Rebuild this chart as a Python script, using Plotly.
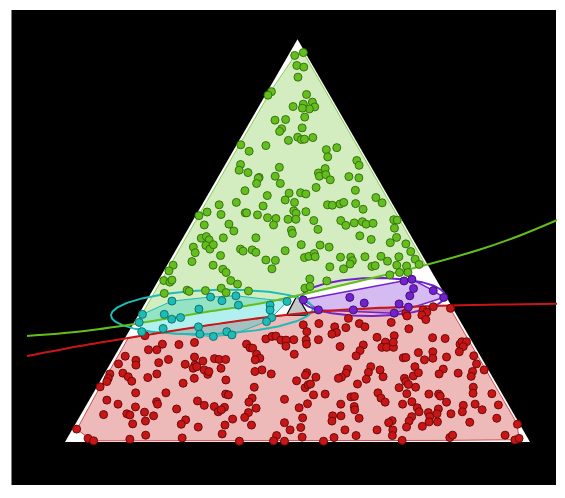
import numpy as np
import plotly.graph_objects as go

# ---------------- data (ternary compositions, percent) ----------------
green_a = [95.9,96.7,93.5,93.1,90.6,87.0,86.2,86.3,84.4,83.9,83.2,83.3,82.7,82.9,80.0,80.0,80.6,78.0,77.7,77.2,
           74.9,75.7,75.1,75.2,75.6,73.8,72.2,73.6,72.6,73.1,70.8,68.9,67.5,66.9,68.2,65.7,66.0,67.9,66.8,66.0,
           66.4,69.9,68.7,65.9,65.6,65.1,65.5,64.2,64.2,62.4,61.2,60.1,61.8,59.5,61.9,58.9,59.5,58.6,57.1,56.5,
           56.2,56.9,56.9,56.4,57.4,56.8,55.7,55.5,55.3,55.3,53.9,54.1,53.9,52.4,52.6,51.8,50.6,51.0,50.2,50.7,
           50.7,48.4,47.0,48.8,47.9,49.0,47.9,47.4,47.7,47.1,49.0,46.3,47.5,44.8,43.9,45.2,45.1,45.8,43.9,42.5,
           42.9,42.1,43.0,40.1,39.7,40.2,40.1,39.2,36.9,37.7,37.4,37.6,38.2,37.1,37.5,63.2,62.5,61.6,60.7,59.4,
           58.9,58.8,59.1,59.5,59.2,57.8,57.2,55.0,55.0,53.8,54.4,54.7,54.1,54.3,55.2,55.1,53.1,52.8,51.2,50.3,
           50.8,49.5,48.9,48.4,49.2,46.1,46.8,46.0,45.9,45.9,45.0,44.2,46.0,46.1,46.0,47.3,45.4,43.5,43.0,43.6,
           43.8,44.9,43.9,43.7,44.1,42.1,42.1,41.5,40.5,40.0,38.2,38.6]
green_b = [2.6,0.4,3.4,2.1,4.6,12.1,13.3,4.9,4.6,6.8,4.7,9.3,6.1,7.5,14.9,12.5,8.1,10.0,14.5,15.3,
           14.5,12.1,11.6,10.9,8.9,25.3,24.3,20.0,7.5,5.0,8.1,27.8,28.8,27.2,19.8,25.4,21.8,10.1,12.1,12.3,
           10.7,2.3,2.4,6.0,4.0,10.4,25.7,26.7,21.6,30.1,25.9,22.6,20.9,20.9,18.4,37.4,33.4,28.1,40.9,38.2,
           43.1,32.8,32.5,30.4,22.1,21.9,28.6,26.9,24.4,22.7,43.1,37.7,28.2,37.5,25.0,25.2,45.4,44.1,43.9,40.6,
           33.6,48.2,48.5,45.3,44.9,43.6,38.3,38.0,35.9,35.4,24.7,43.4,28.9,50.3,46.2,34.2,32.2,25.6,54.8,56.4,
           44.6,44.3,34.0,58.7,57.6,56.9,44.3,43.3,60.2,54.9,54.6,51.0,47.3,46.8,41.8,14.4,6.3,17.4,2.8,2.1,
           14.1,13.1,11.3,10.3,7.9,7.0,19.6,19.0,13.2,12.7,10.6,8.7,8.2,6.6,1.7,1.0,2.6,19.2,11.0,9.0,
           3.3,5.3,20.7,19.0,2.1,24.5,23.0,23.2,17.8,15.6,15.7,16.6,12.5,9.0,5.2,2.0,2.0,21.3,18.6,12.2,
           11.4,8.2,6.7,4.7,1.8,7.0,5.2,9.4,27.1,23.7,29.3,28.0]
green_c = [1.4,2.9,3.1,4.8,4.8,0.9,0.6,8.8,11.0,9.3,12.1,7.4,11.2,9.6,5.2,7.4,11.2,12.0,7.7,7.6,
           10.6,12.2,13.3,13.9,15.5,0.9,3.5,6.4,19.9,21.9,21.1,3.3,3.7,5.9,12.0,8.9,12.2,22.0,21.1,21.7,
           22.9,27.8,28.9,28.1,30.4,24.5,8.8,9.1,14.2,7.5,12.9,17.3,17.3,19.6,19.7,3.7,7.1,13.3,2.0,5.3,
           0.7,10.3,10.6,13.2,20.5,21.3,15.7,17.6,20.3,22.0,3.0,8.2,17.9,10.1,22.4,23.0,4.0,4.9,5.9,8.7,
           15.7,3.4,4.5,5.9,7.2,7.4,13.8,14.6,16.4,17.5,26.3,10.3,23.6,4.9,9.9,20.6,22.7,28.6,1.3,1.1,
           12.5,13.6,23.0,1.2,2.7,2.9,15.6,17.5,2.9,7.4,8.0,11.4,14.5,16.1,20.7,22.4,31.2,21.0,36.5,38.5,
           27.0,28.1,29.6,30.2,32.9,35.2,23.2,26.0,31.8,33.5,35.0,36.6,37.7,39.1,43.1,43.9,44.3,28.0,37.8,40.7,
           45.9,45.2,30.4,32.6,48.7,29.4,30.2,30.8,36.3,38.5,39.3,39.2,41.5,44.9,48.8,50.7,52.6,35.2,38.4,44.2,
           44.8,46.9,49.4,51.6,54.1,50.9,52.7,49.1,32.4,36.3,32.5,33.4]

cyan_a = [35.0,36.0,35.1,36.3,34.0,33.0,31.7,31.7,30.9,30.5,34.0,32.8,34.9,30.9,29.7,27.4,28.2,28.6,26.8,26.2,27.4,29.9,26.6]
cyan_b = [59.5,50.7,48.7,45.1,45.7,54.7,62.8,67.5,59.7,61.8,38.9,39.5,34.8,40.1,69.2,69.8,64.8,57.0,57.6,55.0,51.5,41.7,50.8]
cyan_c = [5.5,13.3,16.2,18.6,20.3,12.3,5.5,0.8,9.4,7.7,27.1,27.7,30.3,29.0,1.1,2.8,7.0,14.4,15.6,18.8,21.1,28.4,22.6]

purple_a = [35.3,40.0,40.4,38.1,37.6,35.9,35.9,34.5,36.3,34.3,33.5,32.8,32.0,32.8]
purple_b = [31.1,7.1,5.2,6.0,2.0,0.6,20.8,18.4,7.7,11.0,9.4,21.6,13.2,29.1]
purple_c = [33.6,52.9,54.4,55.9,60.4,63.5,43.3,47.1,56.0,54.7,57.1,45.6,54.8,38.1]

red_a = [32.0,32.8,32.2,33.6,33.2,30.7,31.5,26.4,22.9,22.9,24.3,24.2,24.7,21.3,20.3,19.1,19.4,19.7,20.5,19.3,
         21.1,20.1,19.1,18.3,18.7,20.7,20.5,20.5,17.9,16.8,17.5,18.3,16.9,15.8,15.0,17.1,16.2,15.1,16.0,16.9,
         15.8,14.6,15.4,13.7,12.2,12.2,10.4,9.4,8.7,10.0,9.4,10.2,9.1,8.8,11.9,11.7,8.6,8.2,6.8,7.0,
         6.7,7.4,6.5,7.5,8.0,4.5,5.2,5.5,4.4,3.7,4.2,5.7,3.2,1.7,0.7,0.9,0.3,1.0,2.0,29.1,
         27.4,29.4,28.6,27.2,26.8,28.4,29.4,28.6,29.7,25.6,26.2,26.3,25.3,25.3,23.8,25.4,25.3,24.3,25.4,24.3,
         23.4,23.3,23.7,24.1,22.7,21.4,26.0,24.8,23.5,23.5,23.5,26.4,24.8,21.8,20.8,20.4,21.8,20.9,17.9,17.5,
         16.9,17.2,16.6,16.1,18.7,17.9,18.1,17.1,16.1,15.8,17.3,15.6,16.2,15.2,14.4,13.5,14.2,14.4,13.6,13.5,
         11.7,11.9,12.2,10.9,9.9,10.6,9.5,11.2,11.3,9.4,10.9,9.9,9.4,8.5,8.4,8.8,8.0,7.3,6.1,6.0,
         6.5,5.2,6.5,5.9,5.3,4.8,4.8,4.2,3.0,3.6,3.0,3.0,3.0,1.6,1.2,1.1,1.6,1.6,0.2,0.3,
         0.2,0.2,31.3,30.4,28.1,25.9,25.7,24.3,24.9,24.9,23.7,22.2,22.4,20.8,22.4,21.0,20.4,21.1,21.4,19.4,
         18.7,16.4,17.2,18.1,16.9,17.9,17.1,17.5,16.3,15.8,15.0,14.3,13.6,13.6,12.1,11.9,11.9,11.4,12.0,10.0,
         9.9,9.1,7.5,9.4,12.0,9.2,8.0,8.5,7.5,8.2,7.0,7.0,7.3,6.3,5.0,6.3,5.2,3.7,5.0,3.9,
         4.9,5.9,4.4,1.7,1.1,1.7,0.5,0.9,0.4]
red_b = [10.7,6.6,6.1,4.0,0.5,23.7,7.5,69.6,70.6,68.8,66.9,63.4,59.8,76.4,74.6,75.2,78.8,70.0,67.5,64.5,
         61.6,60.3,62.5,63.3,62.3,57.5,56.6,55.2,61.1,60.9,60.3,57.3,81.9,82.8,83.5,79.0,78.3,78.1,74.2,71.8,
         64.3,67.3,57.7,85.6,78.7,72.2,85.8,83.9,80.5,75.3,75.4,66.4,65.5,63.5,59.5,59.0,61.4,71.9,88.3,83.2,
         82.7,79.2,77.7,63.3,62.4,83.2,80.1,71.3,72.8,69.5,63.5,61.1,95.9,81.8,85.7,94.6,93.7,74.3,65.2,34.2,
         34.3,30.7,27.7,28.0,29.2,25.4,22.0,21.2,15.0,44.0,42.4,41.5,40.9,39.8,40.6,38.1,35.5,35.9,32.8,48.8,
         48.5,48.0,29.0,23.8,25.2,26.7,19.9,18.7,20.1,19.1,17.6,16.0,17.0,47.9,47.7,48.9,39.8,16.8,48.7,50.4,
         47.2,39.4,40.0,38.0,24.9,23.3,30.2,31.0,32.5,33.3,26.1,27.4,23.5,42.6,29.9,41.6,40.6,40.0,52.5,21.4,
         40.7,38.1,26.6,54.3,55.5,47.5,43.1,32.9,32.1,36.0,26.6,26.2,22.7,45.4,54.7,33.4,33.7,56.9,58.3,45.9,
         39.2,40.0,37.4,33.8,27.0,28.0,50.4,57.8,50.1,47.5,38.3,31.4,28.0,53.7,48.4,41.6,36.6,28.8,62.4,55.0,
         52.7,44.3,10.8,7.2,12.0,8.0,5.4,2.9,2.2,1.2,2.5,12.9,9.7,10.5,4.0,16.2,12.5,7.4,1.4,1.8,
         15.4,16.9,15.4,9.6,11.1,0.9,6.9,3.6,4.5,19.1,19.2,19.0,17.8,5.4,6.2,15.8,13.7,13.6,20.5,20.4,
         13.0,9.8,10.8,7.1,2.2,2.2,6.3,20.0,20.1,15.6,16.5,13.5,18.2,18.4,19.2,22.3,23.4,24.7,17.4,21.2,
         10.5,4.2,0.5,4.5,16.7,15.8,3.0,1.9,27.3]
red_c = [57.3,60.6,61.7,62.4,66.3,45.6,61.0,4.0,6.5,8.3,8.8,12.4,15.5,2.3,5.1,5.7,1.8,10.3,12.0,16.2,
         17.3,19.6,18.4,18.4,19.0,21.8,22.9,24.3,21.0,22.3,22.2,24.4,1.2,1.4,1.5,3.9,5.5,6.8,9.8,11.3,
         19.9,18.1,26.9,0.7,9.1,15.6,3.8,6.7,10.8,14.7,15.2,23.4,25.4,27.7,28.6,29.3,30.0,19.9,4.9,9.8,
         10.6,13.4,15.8,29.2,29.6,12.3,14.7,23.2,22.8,26.8,32.3,33.2,0.9,16.5,13.6,4.5,6.0,24.7,32.8,36.7,
         38.3,39.9,43.7,44.8,44.0,46.2,48.6,50.2,55.3,30.4,31.4,32.2,33.8,34.9,35.6,36.5,39.2,39.8,41.8,26.9,
         28.1,28.7,47.3,52.1,52.1,51.9,54.1,56.5,56.4,57.4,58.9,57.6,58.2,30.3,31.5,30.7,38.4,62.3,33.4,32.1,
         35.9,43.4,43.4,45.9,56.4,58.8,51.7,51.9,51.4,50.9,56.6,57.0,60.3,42.2,55.7,44.9,45.2,45.6,33.9,65.1,
         47.6,50.0,61.2,34.8,34.6,41.9,47.4,55.9,56.6,54.6,62.5,63.9,67.9,46.1,36.9,57.8,58.3,35.8,35.6,48.1,
         54.3,54.8,56.1,60.3,67.7,67.2,44.8,38.0,46.9,48.9,58.7,65.6,69.0,44.7,50.4,57.3,61.8,69.6,37.4,44.7,
         47.1,55.5,57.9,62.4,59.9,66.1,68.9,72.8,72.9,73.9,73.8,64.9,67.9,68.7,73.6,62.8,67.1,71.5,77.2,78.8,
         65.9,66.7,67.4,72.3,72.0,81.2,76.0,78.9,79.2,65.1,65.8,66.7,68.6,81.0,81.7,72.3,74.4,75.0,67.5,69.6,
         77.1,81.1,81.7,83.5,85.8,88.6,85.7,71.5,72.4,76.2,76.5,79.5,74.5,75.3,75.8,71.4,71.4,71.6,77.6,74.9,
         84.6,89.9,95.1,93.8,82.2,82.5,96.5,97.2,72.3]

# small unassigned wedge between the cyan and purple groups (ternary vertices)
wedge_a = [31.5, 36.4, 31.5]
wedge_b = [36.6, 31.9, 31.9]
wedge_c = [31.9, 31.7, 36.6]

# boundary curves, in the simplex's planar (x, y) frame (base 0..1, apex height 0.866)
green_curve_x = [-0.0817, 0.0323, 0.1613, 0.2903, 0.4194, 0.5054, 0.6344, 0.7634, 0.8925, 0.9785, 1.0753]
green_curve_y = [0.2280, 0.2376, 0.2559, 0.2774, 0.2978, 0.3161, 0.3462, 0.3774, 0.4140, 0.4441, 0.4845]
red_curve_x = [-0.0817, 0.0323, 0.1613, 0.2903, 0.4194, 0.5484, 0.6774, 0.8065, 0.9355, 1.0753]
red_curve_y = [0.1849, 0.2065, 0.2280, 0.2484, 0.2667, 0.2806, 0.2886, 0.2929, 0.2955, 0.2978]

# group ellipses: centre x, centre y, semi-axes, rotation (deg), same planar frame
cyan_ellipse = dict(cx=0.3161, cy=0.2796, ra=0.2172, rb=0.0473, ang=2.0)
purple_ellipse = dict(cx=0.6624, cy=0.3118, ra=0.1548, rb=0.0409, ang=1.0)

# ---------------- colours ----------------
GREEN = "rgb(100,190,30)"
RED = "rgb(200,22,22)"
CYAN = "rgb(30,188,182)"
PURPLE = "rgb(115,35,205)"

SQ3 = np.sqrt(3) / 2


def proj(a, b, c):
    a = np.asarray(a, float); b = np.asarray(b, float); c = np.asarray(c, float)
    s = a + b + c
    A = a / s; C = c / s
    return C + A / 2, A * SQ3


def convex_hull(x, y):
    pts = sorted(set(zip(np.round(x, 6), np.round(y, 6))))
    def cross(o, p, q):
        return (p[0] - o[0]) * (q[1] - o[1]) - (p[1] - o[1]) * (q[0] - o[0])
    lower, upper = [], []
    for p in pts:
        while len(lower) >= 2 and cross(lower[-2], lower[-1], p) <= 0:
            lower.pop()
        lower.append(p)
    for p in reversed(pts):
        while len(upper) >= 2 and cross(upper[-2], upper[-1], p) <= 0:
            upper.pop()
        upper.append(p)
    return lower, upper[::-1]


def closed(xs, ys):
    return list(xs) + [xs[0]], list(ys) + [ys[0]]


def hull_polygon(x, y):
    lo, up = convex_hull(x, y)
    ring = lo[:-1] + up[::-1][:-1]
    hx = [p[0] for p in ring]; hy = [p[1] for p in ring]
    return closed(hx, hy)


def ellipse(e, n=240):
    t = np.linspace(0, 2 * np.pi, n)
    th = np.radians(e["ang"])
    x = e["cx"] + e["ra"] * np.cos(th) * np.cos(t) - e["rb"] * np.sin(th) * np.sin(t)
    y = e["cy"] + e["ra"] * np.sin(th) * np.cos(t) + e["rb"] * np.cos(th) * np.sin(t)
    return x, y


gx, gy = proj(green_a, green_b, green_c)
rx, ry = proj(red_a, red_b, red_c)
cx_, cy_ = proj(cyan_a, cyan_b, cyan_c)
px_, py_ = proj(purple_a, purple_b, purple_c)

allx = np.concatenate([gx, rx, cx_, px_]); ally = np.concatenate([gy, ry, cy_, py_])
lo, up = convex_hull(allx, ally)
lox = np.array([p[0] for p in lo]); loy = np.array([p[1] for p in lo])
upx = np.array([p[0] for p in up]); upy = np.array([p[1] for p in up])
xs = np.unique(np.concatenate([np.linspace(lox[0], lox[-1], 1500), lox, upx]))
ylo = np.interp(xs, lox, loy); yup = np.interp(xs, upx, upy)

gcv = np.interp(xs, green_curve_x, green_curve_y)
m = yup > gcv
green_reg_x = np.concatenate([xs[m], xs[m][::-1]])
green_reg_y = np.concatenate([yup[m], np.maximum(ylo, gcv)[m][::-1]])

rcv = np.interp(xs, red_curve_x, red_curve_y)
rtop = np.minimum(yup, rcv)
m = rtop > ylo
red_reg_x = np.concatenate([xs[m], xs[m][::-1]])
red_reg_y = np.concatenate([ylo[m], rtop[m][::-1]])

fig = go.Figure()

# white simplex background
tx, ty = proj([0, 0, 100], [100, 0, 0], [0, 100, 0])
tx, ty = closed(list(tx), list(ty))
fig.add_trace(go.Scatter(x=tx, y=ty, fill="toself", fillcolor="white", mode="lines",
                         line=dict(width=0, color="white"), hoverinfo="skip"))

def add_fill(x, y, fill, line, width=1.0):
    fig.add_trace(go.Scatter(x=list(x) + [x[0]], y=list(y) + [y[0]], fill="toself", fillcolor=fill,
                             mode="lines", line=dict(color=line, width=width), hoverinfo="skip"))

add_fill(green_reg_x, green_reg_y, "rgba(100,190,30,0.28)", "rgba(120,205,60,0.9)")
add_fill(red_reg_x, red_reg_y, "rgba(200,22,22,0.30)", "rgba(205,40,40,0.8)")

hx, hy = hull_polygon(cx_, cy_)
add_fill(hx, hy, "rgba(0,205,205,0.30)", CYAN)
hx, hy = hull_polygon(px_, py_)
add_fill(hx, hy, "rgba(125,45,215,0.32)", PURPLE, 1.5)

wx, wy = proj(wedge_a, wedge_b, wedge_c)
add_fill(list(wx), list(wy), "rgba(150,150,150,0.55)", "black", 1.2)

for e, col in [(cyan_ellipse, CYAN), (purple_ellipse, PURPLE)]:
    ex, ey = ellipse(e)
    fig.add_trace(go.Scatter(x=ex, y=ey, mode="lines", line=dict(color=col, width=2), hoverinfo="skip"))

fig.add_trace(go.Scatter(x=green_curve_x, y=green_curve_y, mode="lines",
                         line=dict(color=GREEN, width=2, shape="spline"), hoverinfo="skip"))
fig.add_trace(go.Scatter(x=red_curve_x, y=red_curve_y, mode="lines",
                         line=dict(color=RED, width=2, shape="spline"), hoverinfo="skip"))

# points on the ternary axes
for a, b, c, col, edge in [(green_a, green_b, green_c, GREEN, "rgb(55,115,15)"),
                           (red_a, red_b, red_c, RED, "rgb(110,10,10)"),
                           (cyan_a, cyan_b, cyan_c, CYAN, "rgb(15,115,110)"),
                           (purple_a, purple_b, purple_c, PURPLE, "rgb(65,15,120)")]:
    fig.add_trace(go.Scatterternary(a=a, b=b, c=c, mode="markers", subplot="ternary",
                                    marker=dict(size=8, color=col, line=dict(color=edge, width=1)),
                                    cliponaxis=False))

# the page body adds an 8 px offset, so the figure is 8 px smaller than the window
W, H = 557, 490
AX0, BASE, SIDE = 57, 434, 465          # triangle left x, base y, side length (figure px)
ax_hidden = dict(showline=False, showgrid=False, showticklabels=False, ticks="", title=dict(text=""))
cy_top = BASE - SIDE * SQ3 / 2           # vertical centre of the triangle (from top)
fig.update_layout(
    width=W, height=H, autosize=False, showlegend=False,
    margin=dict(l=0, r=0, t=0, b=0, pad=0),
    paper_bgcolor="white", plot_bgcolor="rgba(0,0,0,0)",
    xaxis=dict(domain=[0, 1], range=[-AX0 / SIDE, (W - AX0) / SIDE], visible=False, fixedrange=True),
    yaxis=dict(domain=[0, 1], range=[-(H - BASE) / SIDE, BASE / SIDE], visible=False, fixedrange=True),
    ternary=dict(sum=100, bgcolor="rgba(0,0,0,0)",
                 domain=dict(x=[AX0 / W, (AX0 + SIDE) / W],
                             y=[1 - cy_top / H - 0.412, 1 - cy_top / H + 0.412]),
                 aaxis=ax_hidden, baxis=ax_hidden, caxis=ax_hidden),
    shapes=[dict(type="rect", xref="paper", yref="paper", x0=3.5 / W, x1=548 / W,
                 y0=(H - 477) / H, y1=(H - 2) / H, fillcolor="black", line=dict(width=0), layer="below")],
)

fig.write_html("out.html")
